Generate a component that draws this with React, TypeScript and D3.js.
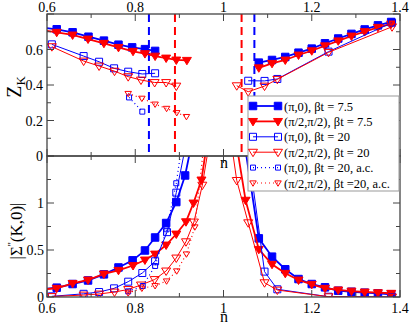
import React from 'react';
import * as d3 from 'd3';

// ---------- axes ----------
const xMajor = [0.6, 0.8, 1.0, 1.2, 1.4];
const xMajorLabels = ['0.6', '0.8', '1', '1.2', '1.4'];
const xMinor = [0.7, 0.9, 1.1, 1.3];
const zMajor = [0, 0.2, 0.4, 0.6, 0.8];
const zMajorLabels = ['0', '0.2', '0.4', '0.6', ''];
const zMinor = [0.1, 0.3, 0.5, 0.7];
const sMajor = [0, 0.5, 1.0, 1.5];
const sMajorLabels = ['0', '0.5', '1', ''];
const sMinor = [0.25, 0.75, 1.25];

// ---------- legend ----------
const legendLabels = [
  '(π,0), βt = 7.5',
  '(π/2,π/2), βt = 7.5',
  '(π,0), βt = 20',
  '(π/2,π/2), βt = 20',
  '(π,0), βt = 20, a.c.',
  '(π/2,π/2), βt =20, a.c.',
];

// ---------- top panel: Z_K ----------
const zS1L_n = [0.586, 0.622, 0.658, 0.694, 0.729, 0.762, 0.793, 0.822, 0.845];
const zS1L_v = [0.725, 0.714, 0.697, 0.672, 0.650, 0.627, 0.612, 0.602, 0.592];
const zS1R_n = [1.08, 1.11, 1.14, 1.17, 1.20, 1.23, 1.26, 1.29, 1.32, 1.35, 1.38];
const zS1R_v = [0.526, 0.541, 0.558, 0.582, 0.605, 0.635, 0.662, 0.688, 0.713, 0.736, 0.755];

const zS2L_n = [0.586, 0.622, 0.658, 0.693, 0.729, 0.762, 0.795, 0.822, 0.845, 0.870, 0.893, 0.917];
const zS2L_v = [0.710, 0.697, 0.682, 0.659, 0.635, 0.612, 0.590, 0.577, 0.563, 0.552, 0.541, 0.539];
const zS2R_n = [1.08, 1.11, 1.14, 1.17, 1.20, 1.23, 1.26, 1.29, 1.32, 1.35, 1.38];
const zS2R_v = [0.497, 0.522, 0.541, 0.569, 0.593, 0.621, 0.649, 0.676, 0.701, 0.725, 0.744];

const zS3L_n = [0.611, 0.683, 0.718, 0.752, 0.784, 0.816, 0.845];
const zS3L_v = [0.629, 0.563, 0.531, 0.494, 0.475, 0.462, 0.466];
const zS3R_n = [1.056, 1.093, 1.122, 1.238, 1.382];
const zS3R_v = [0.424, 0.423, 0.434, 0.588, 0.751];

const zS4L_n = [0.611, 0.683, 0.718, 0.753, 0.784, 0.813, 0.844, 0.870, 0.893];
const zS4L_v = [0.616, 0.535, 0.507, 0.478, 0.447, 0.428, 0.414, 0.414, 0.394];
const zS4R_n = [1.030, 1.056, 1.093, 1.122, 1.238, 1.382];
const zS4R_v = [0.396, 0.362, 0.394, 0.432, 0.584, 0.728];

const zS5_n = [0.786, 0.816];
const zS5_v = [0.33, 0.25];
const zS6_n = [0.784, 0.815, 0.845, 0.871, 0.894, 0.916];
const zS6_v = [0.352, 0.325, 0.292, 0.268, 0.244, 0.222];

const blueDashedN = [0.831, 1.070];
const redDashedN = [0.890, 1.041];

// ---------- bottom panel: |Sigma''(K,0)| ----------
const sS1L_n = [0.586, 0.622, 0.658, 0.693, 0.729, 0.762, 0.794, 0.822, 0.845, 0.870, 0.893, 0.913, 0.933];
const sS1L_v = [0.082, 0.099, 0.138, 0.176, 0.241, 0.314, 0.390, 0.495, 0.633, 0.787, 1.010, 1.293, 1.75];
const sS1R_n = [1.05, 1.08, 1.11, 1.14, 1.17, 1.20, 1.23, 1.26, 1.29, 1.32, 1.35, 1.38];
const sS1R_v = [1.56, 0.624, 0.429, 0.295, 0.191, 0.138, 0.103, 0.067, 0.056, 0.046, 0.039, 0.029];

const sS2L_n = [0.586, 0.622, 0.658, 0.693, 0.729, 0.762, 0.795, 0.822, 0.845, 0.870, 0.893, 0.915, 0.932, 0.950, 0.967];
const sS2L_v = [0.080, 0.093, 0.145, 0.181, 0.245, 0.284, 0.335, 0.394, 0.457, 0.553, 0.670, 0.801, 1.0, 1.245, 1.78];
const sS2R_n = [1.02, 1.05, 1.08, 1.11, 1.14, 1.17, 1.20, 1.23, 1.26, 1.29, 1.32, 1.35, 1.38];
const sS2R_v = [1.9, 1.03, 0.507, 0.348, 0.252, 0.181, 0.135, 0.093, 0.075, 0.063, 0.053, 0.046, 0.040];

const sS3L_n = [0.611, 0.683, 0.718, 0.752, 0.784, 0.816, 0.845, 0.872, 0.893, 0.913];
const sS3L_v = [0.007, 0.034, 0.053, 0.092, 0.163, 0.255, 0.38, 0.69, 1.11, 1.58];
const sS3R_n = [1.056, 1.093, 1.122, 1.238, 1.382];
const sS3R_v = [1.56, 0.27, 0.082, 0.003, 0.0];

const sS4L_n = [0.611, 0.683, 0.718, 0.753, 0.784, 0.813, 0.844, 0.870, 0.893, 0.915, 0.933, 0.952, 0.970];
const sS4L_v = [0.005, 0.021, 0.032, 0.053, 0.08, 0.128, 0.186, 0.277, 0.415, 0.588, 0.798, 1.19, 1.7];
const sS4R_n = [1.019, 1.030, 1.056, 1.093, 1.122, 1.238, 1.382];
const sS4R_v = [1.6, 1.24, 0.79, 0.152, 0.074, 0.003, 0.0];

const sS5_n = [0.784, 0.817, 0.845, 0.871, 0.893, 0.905];
const sS5_v = [0.06, 0.117, 0.33, 0.72, 1.21, 1.6];
const sS6_n = [0.784, 0.815, 0.845, 0.871, 0.894, 0.916, 0.935, 0.955];
const sS6_v = [0.043, 0.093, 0.12, 0.17, 0.277, 0.457, 0.745, 1.6];

// ---------- styles ----------
type Style = { color: string; shape: 'square' | 'tri'; filled: boolean; size: number; lw: number; dash?: string };
const styles: Style[] = [
  { color: '#0000ff', shape: 'square', filled: true, size: 7.5, lw: 1.8 },
  { color: '#ff0000', shape: 'tri', filled: true, size: 9, lw: 1.8 },
  { color: '#0000ff', shape: 'square', filled: false, size: 7, lw: 1 },
  { color: '#ff0000', shape: 'tri', filled: false, size: 9, lw: 1 },
  { color: '#0000ff', shape: 'square', filled: false, size: 5, lw: 1.2, dash: '1,3' },
  { color: '#ff0000', shape: 'tri', filled: false, size: 6.5, lw: 1.2, dash: '1,3' },
];

const zip = (a: number[], b: number[]) => a.map((v, i) => [v, b[i]] as [number, number]);

const topSeries: { si: number; pts: [number, number][] }[] = [
  { si: 0, pts: zip(zS1L_n, zS1L_v) }, { si: 0, pts: zip(zS1R_n, zS1R_v) },
  { si: 1, pts: zip(zS2L_n, zS2L_v) }, { si: 1, pts: zip(zS2R_n, zS2R_v) },
  { si: 2, pts: zip(zS3L_n, zS3L_v) }, { si: 2, pts: zip(zS3R_n, zS3R_v) },
  { si: 3, pts: zip(zS4L_n, zS4L_v) }, { si: 3, pts: zip(zS4R_n, zS4R_v) },
  { si: 4, pts: zip(zS5_n, zS5_v) },
  { si: 5, pts: zip(zS6_n, zS6_v) },
];
const botSeries: { si: number; pts: [number, number][] }[] = [
  { si: 0, pts: zip(sS1L_n, sS1L_v) }, { si: 0, pts: zip(sS1R_n, sS1R_v) },
  { si: 1, pts: zip(sS2L_n, sS2L_v) }, { si: 1, pts: zip(sS2R_n, sS2R_v) },
  { si: 2, pts: zip(sS3L_n, sS3L_v) }, { si: 2, pts: zip(sS3R_n, sS3R_v) },
  { si: 3, pts: zip(sS4L_n, sS4L_v) }, { si: 3, pts: zip(sS4R_n, sS4R_v) },
  { si: 4, pts: zip(sS5_n, sS5_v) },
  { si: 5, pts: zip(sS6_n, sS6_v) },
];

function markerPath(shape: string, cx: number, cy: number, size: number) {
  if (shape === 'square') {
    const h = size / 2;
    return `M${cx - h},${cy - h}H${cx + h}V${cy + h}H${cx - h}Z`;
  }
  const h = size / 2;
  return `M${cx - h},${cy - h * 0.65}H${cx + h}L${cx},${cy + h}Z`;
}

const FONT = '"Liberation Serif", "Times New Roman", serif';

export default function App() {
  const L = 47, R = 400, T = 14, M = 156, B = 297;
  const x = d3.scaleLinear().domain([0.6, 1.4]).range([L, R]);
  const yZ = d3.scaleLinear().domain([0, 0.8]).range([M, T]);
  const yS = d3.scaleLinear().domain([0, 1.5]).range([B, M]);
  const frame = '#444';

  const renderSeries = (series: typeof topSeries, y: d3.ScaleLinear<number, number>, lo: number, hi: number) => {
    const line = d3.line<[number, number]>().x((d) => x(d[0])).y((d) => y(d[1]));
    return series.map((s, k) => {
      const st = styles[s.si];
      return (
        <g key={k}>
          <path d={line(s.pts) || ''} fill="none" stroke={st.color} strokeWidth={st.lw} strokeDasharray={st.dash} />
          {s.pts
            .filter((p) => p[1] >= lo && p[1] <= hi && p[0] >= 0.6 && p[0] <= 1.4)
            .map((p, i) => (
              <path key={i} d={markerPath(st.shape, x(p[0]), y(p[1]), st.size)}
                fill={st.filled ? st.color : 'none'} stroke={st.color} strokeWidth={1} />
            ))}
        </g>
      );
    });
  };

  const ticksX = (yEdge: number, dir: number) => (
    <g stroke={frame} strokeWidth={1}>
      {xMajor.map((t, i) => <line key={'M' + i} x1={x(t)} x2={x(t)} y1={yEdge} y2={yEdge + dir * 7} />)}
      {xMinor.map((t, i) => <line key={'m' + i} x1={x(t)} x2={x(t)} y1={yEdge} y2={yEdge + dir * 4} />)}
    </g>
  );
  const ticksY = (maj: number[], min: number[], y: d3.ScaleLinear<number, number>) => (
    <g stroke={frame} strokeWidth={1}>
      {maj.map((t, i) => <line key={'ML' + i} x1={L} x2={L + 7} y1={y(t)} y2={y(t)} />)}
      {min.map((t, i) => <line key={'mL' + i} x1={L} x2={L + 4} y1={y(t)} y2={y(t)} />)}
      {maj.map((t, i) => <line key={'MR' + i} x1={R} x2={R - 7} y1={y(t)} y2={y(t)} />)}
      {min.map((t, i) => <line key={'mR' + i} x1={R} x2={R - 4} y1={y(t)} y2={y(t)} />)}
    </g>
  );

  const legX0 = 253, legX1 = 278, legTx = 284, legY0 = 106, legDy = 15.4;

  return (
    <svg width={411} height={324} style={{ position: 'absolute', left: 0, top: 0, background: '#fff' }}
      fontFamily={FONT}>
      <defs>
        <clipPath id="clipTop"><rect x={L} y={T} width={R - L} height={M - T} /></clipPath>
        <clipPath id="clipBot"><rect x={L} y={M} width={R - L} height={B - M} /></clipPath>
      </defs>
      <rect x={0} y={0} width={411} height={324} fill="#fff" />

      {/* top panel */}
      <g clipPath="url(#clipTop)">
        {blueDashedN.map((n, i) => (
          <line key={'bd' + i} x1={x(n)} x2={x(n)} y1={T} y2={M} stroke="#0000ff" strokeWidth={2} strokeDasharray="8,5" />
        ))}
        {redDashedN.map((n, i) => (
          <line key={'rd' + i} x1={x(n)} x2={x(n)} y1={T} y2={M} stroke="#ff0000" strokeWidth={2} strokeDasharray="8,5" />
        ))}
        {renderSeries(topSeries, yZ, 0, 0.8)}
      </g>
      {/* bottom panel */}
      <g clipPath="url(#clipBot)">
        {renderSeries(botSeries, yS, 0, 1.5)}
      </g>

      {/* frames and ticks */}
      {ticksX(T, 1)}
      {ticksX(M, -1)}
      {ticksX(M, 1)}
      {ticksX(B, -1)}
      {ticksY(zMajor, zMinor, yZ)}
      {ticksY(sMajor, sMinor, yS)}
      <rect x={L} y={T} width={R - L} height={M - T} fill="none" stroke={frame} strokeWidth={1.3} />
      <rect x={L} y={M} width={R - L} height={B - M} fill="none" stroke={frame} strokeWidth={1.3} />

      {/* tick labels */}
      <g fontSize={14} fill="#000">
        {xMajor.map((t, i) => <text key={'xt' + i} x={x(t)} y={12} textAnchor="middle">{xMajorLabels[i]}</text>)}
        {xMajor.map((t, i) => <text key={'xb' + i} x={x(t)} y={313} textAnchor="middle">{xMajorLabels[i]}</text>)}
        {zMajor.map((t, i) => <text key={'zl' + i} x={43} y={yZ(t) + 5} textAnchor="end">{zMajorLabels[i]}</text>)}
        {sMajor.map((t, i) => <text key={'sl' + i} x={44} y={yS(t) + 5} textAnchor="end">{sMajorLabels[i]}</text>)}
      </g>

      {/* axis titles */}
      <text x={224} y={168} fontSize={16} textAnchor="middle">n</text>
      <text x={224} y={322} fontSize={16} textAnchor="middle">n</text>
      <text transform="translate(21,87) rotate(-90)" fontSize={20} textAnchor="middle">
        Z<tspan fontSize={13} dy={4}>K</tspan>
      </text>
      <text transform="translate(22,231) rotate(-90)" fontSize={17} textAnchor="middle">
        |Σ<tspan fontSize={11} dy={-7}>''</tspan><tspan dy={7}>(K,0)|</tspan>
      </text>

      {/* legend */}
      <rect x={248} y={96} width={151} height={95} fill="#fff" stroke="#999" strokeWidth={1} />
      {legendLabels.map((lab, i) => {
        const st = styles[i];
        const cy = legY0 + i * legDy;
        return (
          <g key={'lg' + i}>
            <line x1={legX0} x2={legX1} y1={cy} y2={cy} stroke={st.color} strokeWidth={st.lw} strokeDasharray={st.dash} />
            {[legX0, legX1].map((lx, j) => (
              <path key={j} d={markerPath(st.shape, lx, cy, st.size)} fill={st.filled ? st.color : 'none'}
                stroke={st.color} strokeWidth={1} />
            ))}
            <text x={legTx} y={cy + 4.5} fontSize={12.5}>{lab}</text>
          </g>
        );
      })}
    </svg>
  );
}
